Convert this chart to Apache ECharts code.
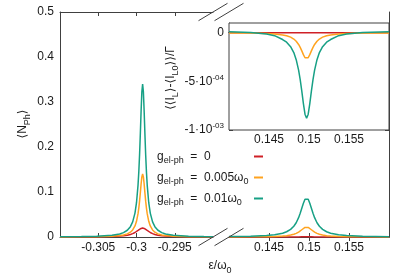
<!DOCTYPE html>
<html><head><meta charset="utf-8">
<script src="https://cdn.jsdelivr.net/npm/echarts@6/dist/echarts.min.js"></script>
<style>html,body{margin:0;padding:0;background:#fff}#c{width:399px;height:279px}</style>
</head><body><div id="c"></div>
<script>
// ---- data ----
const xLeft = [-0.3100,-0.3072,-0.3052,-0.3032,-0.3022,-0.3017,-0.3012,-0.3008,-0.3005,-0.3002,-0.3000,-0.2998,-0.2997,-0.2996,-0.2995,-0.2994,-0.2993,-0.2992,-0.2991,-0.2990,-0.2989,-0.2988,-0.2987,-0.2986,-0.2984,-0.2982,-0.2979,-0.2976,-0.2972,-0.2967,-0.2962,-0.2952,-0.2932,-0.2912,-0.2900];
const redLeft = [0.00017,0.0003,0.00054,0.0012,0.002,0.0028,0.004,0.0056,0.0075,0.01,0.0122,0.0147,0.016,0.0172,0.0183,0.0192,0.0198,0.02,0.0198,0.0192,0.0183,0.0172,0.016,0.0147,0.0122,0.01,0.0075,0.0056,0.004,0.0028,0.002,0.0012,0.00054,0.0003,0.00023];
const orangeLeft = [0.00025,0.00046,0.0008,0.0018,0.0032,0.0046,0.007,0.0107,0.0156,0.0245,0.0348,0.0518,0.0642,0.0797,0.0982,0.1177,0.1337,0.14,0.1337,0.1177,0.0982,0.0797,0.0642,0.0518,0.0348,0.0245,0.0156,0.0107,0.007,0.0046,0.0032,0.0018,0.0008,0.00046,0.00035];
const tealLeft = [0.0005,0.001,0.0017,0.0039,0.0068,0.0098,0.015,0.0229,0.0335,0.0531,0.0762,0.1154,0.1446,0.1822,0.2287,0.2795,0.3226,0.34,0.3226,0.2795,0.2287,0.1822,0.1446,0.1154,0.0762,0.0531,0.0335,0.0229,0.015,0.0098,0.0068,0.0039,0.0017,0.001,0.0007];

const xRight = [0.1400,0.1427,0.1447,0.1457,0.1467,0.1472,0.1477,0.1481,0.1484,0.1487,0.1489,0.1491,0.1493,0.1495,0.1497,0.1499,0.1501,0.1503,0.1505,0.1507,0.1510,0.1513,0.1517,0.1522,0.1527,0.1537,0.1547,0.1567,0.1600];
const redRight = [0,0,0.00002,0.00003,0.00005,0.00007,0.0001,0.00014,0.00018,0.00025,0.0003,0.00036,0.00043,0.00048,0.0005,0.00048,0.00043,0.00036,0.0003,0.00025,0.00018,0.00014,0.0001,0.00007,0.00005,0.00003,0.00002,0,0];
const orangeRight = [0.0002,0.0004,0.0008,0.0013,0.0021,0.003,0.0043,0.0061,0.008,0.0109,0.0133,0.0161,0.019,0.0213,0.0222,0.0213,0.019,0.0161,0.0133,0.0109,0.008,0.0061,0.0043,0.003,0.0021,0.0013,0.0008,0.0004,0.0002];
const tealRight = [0.0009,0.0017,0.0032,0.005,0.0084,0.0117,0.017,0.0239,0.0317,0.0429,0.0526,0.0637,0.0751,0.0841,0.0876,0.0841,0.0751,0.0637,0.0526,0.0429,0.0317,0.0239,0.017,0.0117,0.0084,0.005,0.0032,0.0017,0.0008];

const xInset = xRight;
const redInset = [0,0,0,0,0,0,0,0,0,0,0,0,0,0,0,0,0,0,0,0,0,0,0,0,0,0,0,0,0];
const orangeInset = [-0.000002,-0.000004,-0.0000085,-0.000013,-0.0000223,-0.000031,-0.0000455,-0.0000649,-0.0000875,-0.0001208,-0.0001508,-0.000187,-0.0002255,-0.0002573,-0.00027,-0.0002573,-0.0002255,-0.000187,-0.0001508,-0.0001208,-0.0000875,-0.0000649,-0.0000455,-0.000031,-0.0000223,-0.000013,-0.0000085,-0.000004,-0.000002];
const tealInset = [0.00001,0.000003,-0.000012,-0.00003,-0.00007,-0.000097,-0.000143,-0.000204,-0.000277,-0.000384,-0.000482,-0.000601,-0.000729,-0.000837,-0.00088,-0.000837,-0.000729,-0.000601,-0.000482,-0.000384,-0.000277,-0.000204,-0.000143,-0.000097,-0.00007,-0.00003,-0.000012,0.000003,0.00001];

const yTicks = [0,0.1,0.2,0.3,0.4,0.5];
const yTickLabels = ['0','0.1','0.2','0.3','0.4','0.5'];
const xTicksLeft = [-0.305,-0.3,-0.295];
const xTickLabelsLeft = ['-0.305','-0.3','-0.295'];
const xTicksRight = [0.145,0.15,0.155];
const xTickLabelsRight = ['0.145','0.15','0.155'];
const insetYTicks = [-0.001,-0.0005,0];
const insetYTickLabels = ['-1·10{sup|-03}','-5·10{sup|-04}','0'];

const seriesNames = ['g0','g005','g01'];
const legendLabels = ['{m|g}{sub|el-ph}{m|  =  0}','{m|g}{sub|el-ph}{m|  =  0.005ω}{sub|0}','{m|g}{sub|el-ph}{m|  =  0.01ω}{sub|0}'];
const colors = ['#cf2027','#ffa31f','#17a085'];

// ---- layout ----
const G0 = {left:60, top:12, width:153, height:225};
const G1 = {left:229, top:12, width:160, height:225};
const GI = {left:229, top:23, width:160, height:107};
const AX = '#404040', TXT = '#1a1a1a';
const FONT = "'Liberation Sans','DejaVu Sans',sans-serif";

function lab(ticks, labels){
  return v => { const i = ticks.findIndex(t => Math.abs(t - v) < 1e-9); return i >= 0 ? labels[i] : ''; };
}
function tick(vals, show){ return {show: show !== false, inside:true, length:4, customValues: vals, lineStyle:{color:AX, width:1}}; }
const line = {show:true, lineStyle:{color:AX, width:1}};

const chart = echarts.init(document.getElementById('c'), null, {renderer:'canvas'});

const xAxis = [
  {gridIndex:0, type:'value', min:-0.31, max:-0.29, interval:0.005, position:'bottom', axisLine:line, axisTick:tick(xTicksLeft), splitLine:{show:false},
   axisLabel:{customValues:xTicksLeft, formatter:lab(xTicksLeft,xTickLabelsLeft), fontSize:12, color:TXT, margin:5}},
  {gridIndex:0, type:'value', min:-0.31, max:-0.29, interval:0.005, position:'top', axisLine:line, axisTick:tick(xTicksLeft), splitLine:{show:false}, axisLabel:{show:false}},
  {gridIndex:1, type:'value', min:0.14, max:0.16, interval:0.005, position:'bottom', axisLine:line, axisTick:tick(xTicksRight), splitLine:{show:false},
   axisLabel:{customValues:xTicksRight, formatter:lab(xTicksRight,xTickLabelsRight), fontSize:12, color:TXT, margin:5}},
  {gridIndex:1, type:'value', min:0.14, max:0.16, interval:0.005, position:'top', axisLine:line, axisTick:tick(xTicksRight), splitLine:{show:false}, axisLabel:{show:false}},
  {gridIndex:2, type:'value', min:0.14, max:0.16, interval:0.005, position:'bottom', axisLine:line, axisTick:tick(xTicksRight), splitLine:{show:false},
   axisLabel:{customValues:xTicksRight, formatter:lab(xTicksRight,xTickLabelsRight), fontSize:12, color:TXT, margin:4}},
  {gridIndex:2, type:'value', min:0.14, max:0.16, interval:0.005, position:'top', axisLine:line, axisTick:tick(xTicksRight), splitLine:{show:false}, axisLabel:{show:false}}
];
const yAxis = [
  {gridIndex:0, type:'value', min:0, max:0.5, interval:0.1, position:'left', axisLine:line, axisTick:{show:false}, splitLine:{show:false},
   axisLabel:{customValues:yTicks, formatter:lab(yTicks,yTickLabels), fontSize:12, color:TXT, margin:6}},
  {gridIndex:1, type:'value', min:0, max:0.5, interval:0.1, show:false},
  {gridIndex:1, type:'value', min:0, max:0.5, interval:0.1, position:'right', axisLine:line, axisTick:{show:false}, splitLine:{show:false}, axisLabel:{show:false}},
  {gridIndex:2, type:'value', min:-0.001, max:0.0001, interval:0.0005, position:'left', axisLine:line, axisTick:tick(insetYTicks), splitLine:{show:false},
   axisLabel:{customValues:insetYTicks, formatter:lab(insetYTicks,insetYTickLabels), fontSize:12, color:TXT, margin:5, lineHeight:16,
     rich:{sup:{fontSize:8, lineHeight:8, verticalAlign:'top'}}}},
  {gridIndex:2, type:'value', min:-0.001, max:0.0001, interval:0.0005, position:'right', axisLine:line, axisTick:tick(insetYTicks), splitLine:{show:false}, axisLabel:{show:false}}
];

function mk(name, i, xs, ys, xi, yi){
  return {name, type:'line', xAxisIndex:xi, yAxisIndex:yi, data: xs.map((x,k)=>[x, ys[k]]), showSymbol:false, symbol:'none',
    lineStyle:{color:colors[i], width:1.5}, itemStyle:{color:colors[i]}, animation:false, z:3};
}
const series = [
  mk(seriesNames[0],0,xLeft,redLeft,0,0), mk(seriesNames[1],1,xLeft,orangeLeft,0,0), mk(seriesNames[2],2,xLeft,tealLeft,0,0),
  mk(seriesNames[0],0,xRight,redRight,2,1), mk(seriesNames[1],1,xRight,orangeRight,2,1), mk(seriesNames[2],2,xRight,tealRight,2,1),
  mk(seriesNames[0],0,xInset,redInset,4,3), mk(seriesNames[1],1,xInset,orangeInset,4,3), mk(seriesNames[2],2,xInset,tealInset,4,3)
];

// break marks
const brk = [];
[G0.left+G0.width, G1.left].forEach(bx => {
  [G0.top, G0.top+G0.height].forEach(by => {
    brk.push({type:'line', shape:{x1:bx-14.5, y1:by+8.7, x2:bx+14.5, y2:by-8.7}, style:{stroke:AX, lineWidth:1}, z:10});
  });
});
const subRich = {sub:{fontSize:9, lineHeight:9, verticalAlign:'bottom', fontFamily:FONT, fill:TXT}};
const titles = [
  {type:'text', x:23, y:124, rotation:Math.PI/2, z:10,
   style:{text:'⟨N{sub|Ph}⟩', fontSize:12, fontFamily:FONT, fill:TXT, align:'center', verticalAlign:'middle', lineHeight:18, rich:subRich}},
  {type:'text', x:171, y:78, rotation:Math.PI/2, z:10,
   style:{text:'⟨⟨I{sub|L}⟩-⟨I{sub|L0}⟩⟩/Γ', fontSize:12, fontFamily:FONT, fill:TXT, align:'center', verticalAlign:'middle', lineHeight:18, rich:subRich}},
  {type:'text', x:220, y:266, z:10,
   style:{text:'ε/ω{sub|0}', fontSize:12, fontFamily:FONT, fill:TXT, align:'center', verticalAlign:'middle', lineHeight:18, rich:subRich}}
];

chart.setOption({
  animation:false,
  textStyle:{fontFamily:FONT},
  grid:[
    Object.assign({show:false}, G0),
    Object.assign({show:false}, G1),
    Object.assign({show:true, backgroundColor:'#fff', borderColor:AX, borderWidth:1, z:2}, GI)
  ],
  xAxis, yAxis, series,
  legend:{
    orient:'vertical', left:157, top:147.5, padding:0, itemGap:3, align:'right', icon:'rect', itemWidth:9, itemHeight:2,
    selectedMode:false, data:seriesNames,
    formatter: n => legendLabels[seriesNames.indexOf(n)],
    textStyle:{fontSize:12, color:TXT, width:92, lineHeight:18, fontFamily:FONT,
      rich:{m:{fontSize:12, align:'left'}, sub:{fontSize:9, lineHeight:9, verticalAlign:'bottom', align:'left'}}}
  },
  graphic: brk.concat(titles)
});
</script></body></html>
